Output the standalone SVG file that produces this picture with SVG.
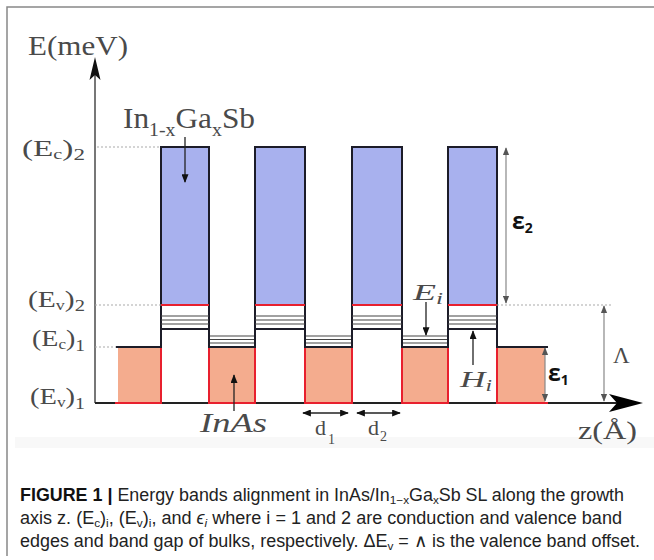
<svg xmlns="http://www.w3.org/2000/svg" width="654" height="560" viewBox="0 0 654 560">
<defs>
<style>
.lbl{font-family:"Liberation Serif","DejaVu Serif",serif;fill:#4a4a4a}
.it{font-style:italic}
.eps{font-family:"Open Sans","DejaVu Sans",sans-serif;font-weight:bold;fill:#111}
.cap{font-family:"Liberation Sans",Arial,sans-serif;font-size:17.5px;fill:#222}
.bar{fill:#A8B1EE}
.well{fill:#F4AC8E}
.blk{stroke:#1c1c28;stroke-width:2;fill:none}
.red{stroke:#E8202E;stroke-width:2;fill:none}
.sb{stroke:#444;stroke-width:1.2;fill:none}
.dot{stroke:#aaa;stroke-width:1.2;stroke-dasharray:2 2;fill:none}
.gar{stroke:#888;stroke-width:1.2;fill:none}
.kar{stroke:#222;stroke-width:1.3;fill:none}
</style>
<marker id="ga" viewBox="0 0 10 8" refX="9" refY="4" markerWidth="8" markerHeight="7" markerUnits="userSpaceOnUse" orient="auto-start-reverse"><path d="M0,0 L10,4 L0,8 z" fill="#555"/></marker>
<marker id="ka" viewBox="0 0 10 8" refX="9" refY="4" markerWidth="9" markerHeight="7" markerUnits="userSpaceOnUse" orient="auto-start-reverse"><path d="M0,0 L10,4 L0,8 z" fill="#111"/></marker>
</defs>

<rect x="15" y="437" width="639" height="11" fill="#f8f8f8"/>
<g id="frame" stroke="#888" stroke-width="1.5" fill="none">
<path d="M7,556 V7 H654"/>
</g>

<g id="axes">
<line x1="95" y1="75" x2="95" y2="403" stroke="#555" stroke-width="1.6"/>
<path d="M95,57 L100.5,80 L95,75 L89.5,80 z" fill="#111"/>
<line x1="95" y1="403" x2="625" y2="403" stroke="#222" stroke-width="2"/>
<path d="M643,403 L609,394 L617,403 L609,412 z" fill="#000"/>
</g>

<g id="well0">
<rect class="well" x="118" y="347" width="43" height="56"/>
<path class="red" d="M115,403 H161 V347"/>
<line class="blk" x1="116" y1="347" x2="162" y2="347"/>
</g>
<g id="well1">
<rect class="well" x="209" y="347" width="46" height="56"/>
<path class="red" d="M209,347 V403 H255 V347"/>
<path class="sb" d="M209,336H255M209,339.5H255M209,343H255"/>
<line class="blk" x1="208" y1="347" x2="256" y2="347"/>
</g>
<g id="well2">
<rect class="well" x="305" y="347" width="47" height="56"/>
<path class="red" d="M305,347 V403 H352 V347"/>
<path class="sb" d="M305,336H352M305,339.5H352M305,343H352"/>
<line class="blk" x1="304" y1="347" x2="353" y2="347"/>
</g>
<g id="well3">
<rect class="well" x="402" y="347" width="46" height="56"/>
<path class="red" d="M402,347 V403 H448 V347"/>
<path class="sb" d="M402,336H448M402,339.5H448M402,343H448"/>
<line class="blk" x1="401" y1="347" x2="449" y2="347"/>
</g>
<g id="well4">
<rect class="well" x="497" y="347" width="48" height="56"/>
<path class="red" d="M497,347 V403 H548"/>
<line class="blk" x1="496" y1="347" x2="548" y2="347"/>
</g>

<g id="barrier1">
<rect class="bar" x="161" y="147" width="48" height="158"/>
<path class="blk" d="M161,348 V147 H209 V348"/>
<line class="red" x1="161" y1="305" x2="209" y2="305"/>
<path class="sb" d="M161,316H209M161,320H209M161,324H209"/>
<line class="blk" x1="161" y1="329" x2="209" y2="329"/>
</g>
<g id="barrier2">
<rect class="bar" x="255" y="147" width="50" height="158"/>
<path class="blk" d="M255,348 V147 H305 V348"/>
<line class="red" x1="255" y1="305" x2="305" y2="305"/>
<path class="sb" d="M255,316H305M255,320H305M255,324H305"/>
<line class="blk" x1="255" y1="329" x2="305" y2="329"/>
</g>
<g id="barrier3">
<rect class="bar" x="352" y="147" width="50" height="158"/>
<path class="blk" d="M352,348 V147 H402 V348"/>
<line class="red" x1="352" y1="305" x2="402" y2="305"/>
<path class="sb" d="M352,316H402M352,320H402M352,324H402"/>
<line class="blk" x1="352" y1="329" x2="402" y2="329"/>
</g>
<g id="barrier4">
<rect class="bar" x="448" y="147" width="49" height="158"/>
<path class="blk" d="M448,348 V147 H497 V348"/>
<line class="red" x1="448" y1="305" x2="497" y2="305"/>
<path class="sb" d="M448,316H497M448,320H497M448,324H497"/>
<line class="blk" x1="448" y1="329" x2="497" y2="329"/>
</g>

<g id="connectors">
<path class="dot" d="M97,147 H161 M95,305 H161 M497,305 H613 M95,347 H116"/>
<line class="gar" x1="506" y1="148" x2="506" y2="303" marker-start="url(#ga)" marker-end="url(#ga)"/>
<line class="gar" x1="604" y1="306" x2="604" y2="401" marker-start="url(#ga)" marker-end="url(#ga)"/>
<line class="gar" x1="545" y1="348" x2="545" y2="401" marker-start="url(#ga)" marker-end="url(#ga)"/>
<line class="kar" x1="185" y1="137" x2="185" y2="182" marker-end="url(#ka)"/>
<line class="kar" x1="234" y1="411" x2="234" y2="375" marker-end="url(#ka)"/>
<line class="kar" x1="426" y1="302" x2="426" y2="335" marker-end="url(#ka)"/>
<line class="kar" x1="473" y1="365" x2="473" y2="331" marker-end="url(#ka)"/>
<line class="kar" x1="303" y1="413" x2="348" y2="413" marker-start="url(#ka)" marker-end="url(#ka)"/>
<line class="kar" x1="357" y1="413" x2="400" y2="413" marker-start="url(#ka)" marker-end="url(#ka)"/>
</g>

<g id="labels">
<text class="lbl" x="28" y="55" font-size="27" textLength="100" lengthAdjust="spacingAndGlyphs">E(meV)</text>
<text class="lbl" x="22" y="156" font-size="23" textLength="63" lengthAdjust="spacingAndGlyphs">(E<tspan font-size="14" dy="3">c</tspan><tspan dy="-3">)</tspan><tspan font-size="16" dy="4">2</tspan></text>
<text class="lbl" x="28" y="307" font-size="23" textLength="57" lengthAdjust="spacingAndGlyphs">(E<tspan font-size="14" dy="3">v</tspan><tspan dy="-3">)</tspan><tspan font-size="16" dy="4">2</tspan></text>
<text class="lbl" x="32" y="346" font-size="23" textLength="53" lengthAdjust="spacingAndGlyphs">(E<tspan font-size="14" dy="3">c</tspan><tspan dy="-3">)</tspan><tspan font-size="16" dy="5">1</tspan></text>
<text class="lbl" x="30" y="404" font-size="23" textLength="55" lengthAdjust="spacingAndGlyphs">(E<tspan font-size="14" dy="3">v</tspan><tspan dy="-3">)</tspan><tspan font-size="16" dy="5">1</tspan></text>
<text class="lbl" x="123" y="128" font-size="30" textLength="132" lengthAdjust="spacingAndGlyphs">In<tspan font-size="19" dy="8">1-x</tspan><tspan dy="-8">Ga</tspan><tspan font-size="19" dy="8">x</tspan><tspan dy="-8">Sb</tspan></text>
<text class="lbl it" x="200" y="432" font-size="28" textLength="67" lengthAdjust="spacingAndGlyphs">InAs</text>
<text class="lbl" x="315" y="435" font-size="22">d<tspan font-size="14" dx="2" dy="9">1</tspan></text>
<text class="lbl" x="368" y="435" font-size="22">d<tspan font-size="14" dx="1" dy="6">2</tspan></text>
<text class="lbl" x="578" y="439" font-size="26" textLength="59" lengthAdjust="spacingAndGlyphs">z(Å)</text>
<text class="lbl" x="613" y="363" font-size="23">Λ</text>
<text class="lbl it" x="413" y="300" font-size="24" textLength="30" lengthAdjust="spacingAndGlyphs">E<tspan font-size="16" dy="4">i</tspan></text>
<text class="lbl it" x="460" y="387" font-size="24" textLength="32" lengthAdjust="spacingAndGlyphs">H<tspan font-size="16" dy="4">i</tspan></text>
<text class="eps" x="512" y="229" font-size="23">ε<tspan font-size="14" dy="4">2</tspan></text>
<text class="eps" x="548" y="381" font-size="23">ε<tspan font-size="14" dy="4">1</tspan></text>
</g>

<g id="caption">
<text class="cap" x="20" y="501" textLength="604" lengthAdjust="spacingAndGlyphs"><tspan font-weight="bold" fill="#111">FIGURE 1 |</tspan> Energy bands alignment in InAs/In<tspan font-size="11.5" dy="3">1−x</tspan><tspan dy="-3">Ga</tspan><tspan font-size="11.5" dy="3">x</tspan><tspan dy="-3">Sb SL along the growth</tspan></text>
<text class="cap" x="20" y="524" textLength="602" lengthAdjust="spacingAndGlyphs">axis z. (E<tspan font-size="11.5" dy="3">c</tspan><tspan dy="-3">)</tspan><tspan font-size="11.5" dy="3">i</tspan><tspan dy="-3">, (E</tspan><tspan font-size="11.5" dy="3">v</tspan><tspan dy="-3">)</tspan><tspan font-size="11.5" dy="3">i</tspan><tspan dy="-3">, and </tspan><tspan font-style="italic">ϵ</tspan><tspan font-size="11.5" font-style="italic" dy="3">i</tspan><tspan dy="-3"> where i = 1 and 2 are conduction and valence band</tspan></text>
<text class="cap" x="20" y="547" textLength="620" lengthAdjust="spacingAndGlyphs">edges and band gap of bulks, respectively. ΔE<tspan font-size="11.5" dy="3">v</tspan><tspan dy="-3"> = ∧ is the valence band offset.</tspan></text>
</g>
</svg>
